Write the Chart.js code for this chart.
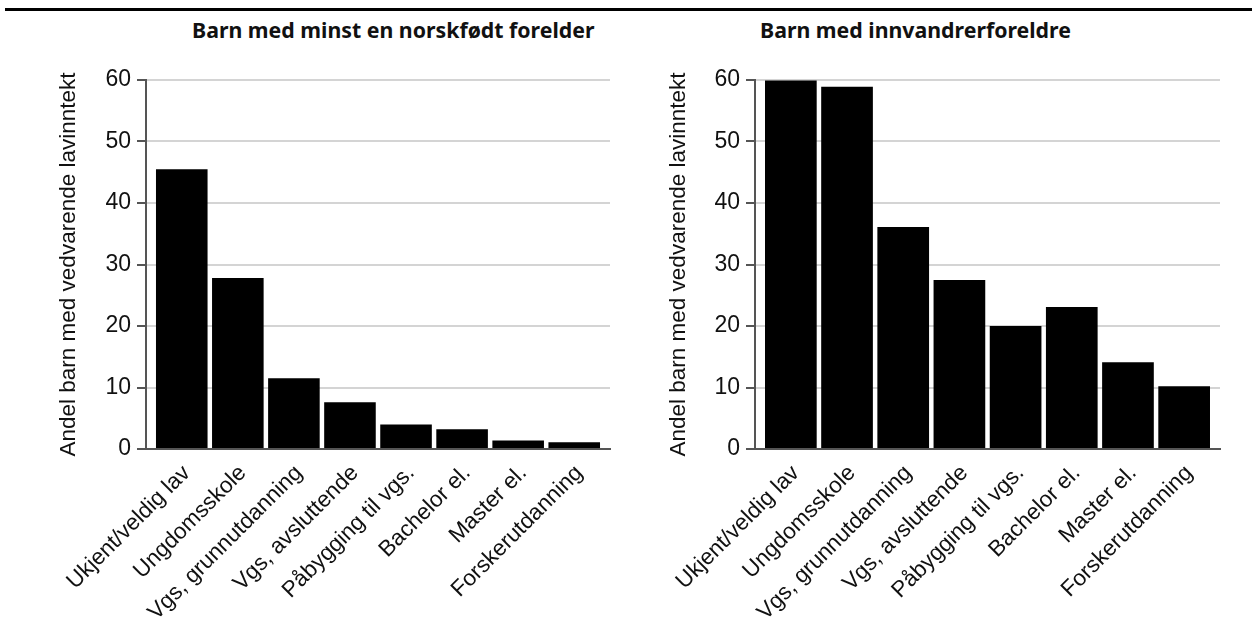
<!DOCTYPE html>
<html>
<head>
<meta charset="utf-8">
<script src="https://cdn.jsdelivr.net/npm/chart.js@4.4.0/dist/chart.umd.min.js"></script>
<style>
  body { margin: 0; background: #fff; width: 1252px; height: 618px; overflow: hidden; position: relative; }
  .topline { position: absolute; left: 5px; right: 0; top: 8px; height: 3px; background: #000; }
  .tittel { position: absolute; font-family: "Noto Sans", sans-serif; font-weight: bold; font-size: 21.3px; line-height: normal; color: #111; white-space: nowrap; }
  .boks { position: absolute; top: 60px; width: 570px; height: 558px; }
</style>
</head>
<body>
<div class="topline"></div>
<div class="tittel" style="left:192px; top:15px;">Barn med minst en norskfødt forelder</div>
<div class="tittel" style="left:760px; top:15px;">Barn med innvandrerforeldre</div>
<div class="boks" style="left:50px;"><canvas id="venstre"></canvas></div>
<div class="boks" style="left:660px;"><canvas id="hoyre"></canvas></div>

<script>
// DATA----------------------------------------------------------------START
var utdanning = ['Ukjent/veldig lav', 'Ungdomsskole', 'Vgs, grunnutdanning', 'Vgs, avsluttende',
  'Påbygging til vgs.', 'Bachelor el.', 'Master el.', 'Forskerutdanning'];
var norskfodt = [45.5, 27.8, 11.5, 7.6, 4.0, 3.2, 1.4, 1.1];
var innvandrer = [59.9, 58.9, 36.1, 27.5, 20.0, 23.1, 14.1, 10.2];
var yTicks = [0, 10, 20, 30, 40, 50, 60];
var yTittel = 'Andel barn med vedvarende lavinntekt';
// DATA----------------------------------------------------------------END

var tickfont = { family: '"Liberation Sans", Arial, sans-serif', size: 23 };
var xfont = { family: '"Liberation Sans", Arial, sans-serif', size: 22.5 };
var tittelfont = { family: '"Liberation Sans", Arial, sans-serif', size: 22.5 };

// LAG ET DIAGRAM----------------------------------------------------------------START
// x-aksen er lineaer slik at soylene faar litt luft mot aksene, som i originalen
function lagDiagram(id, verdier, yBredde) {
  var punkter = verdier.map(function (v, i) { return { x: i, y: v }; });
  var ctx = document.getElementById(id).getContext('2d');
  return new Chart(ctx, {
    type: 'bar',
    data: {
      datasets: [{
        data: punkter,
        backgroundColor: '#000',
        borderWidth: 0,
        barPercentage: 0.92,
        categoryPercentage: 1
      }]
    },
    options: {
      responsive: true,
      maintainAspectRatio: false,
      animation: false,
      layout: { padding: { top: 20, right: 10, left: 0, bottom: 0 } },
      plugins: { legend: { display: false }, tooltip: { enabled: false } },
      scales: {
        x: {
          type: 'linear',
          offset: false,
          min: -0.638,
          max: utdanning.length - 1 + 0.638,
          afterBuildTicks: function (s) { s.ticks = utdanning.map(function (t, i) { return { value: i }; }); },
          grid: { display: false },
          border: { display: true, color: '#555', width: 2 },
          ticks: {
            color: '#111', font: xfont, maxRotation: 45, minRotation: 45, padding: 3,
            labelOffset: 5, autoSkip: false,
            callback: function (v) { return utdanning[v]; }
          },
          afterFit: function (s) { s.height = 169; }
        },
        y: {
          min: 0,
          max: 60,
          afterBuildTicks: function (s) { s.ticks = yTicks.map(function (v) { return { value: v }; }); },
          grid: { color: '#d4d4d4', lineWidth: 2, tickLength: 9, tickColor: '#555', tickWidth: 2 },
          border: { display: true, color: '#555', width: 2 },
          ticks: { color: '#111', font: tickfont, padding: 6 },
          title: { display: true, text: yTittel, color: '#111', font: tittelfont, padding: { top: 5, bottom: 0 } },
          afterFit: function (s) { s.width = yBredde; }
        }
      }
    }
  });
}
// LAG ET DIAGRAM----------------------------------------------------------------END

lagDiagram('venstre', norskfodt, 96);
lagDiagram('hoyre', innvandrer, 95);
</script>
</body>
</html>
